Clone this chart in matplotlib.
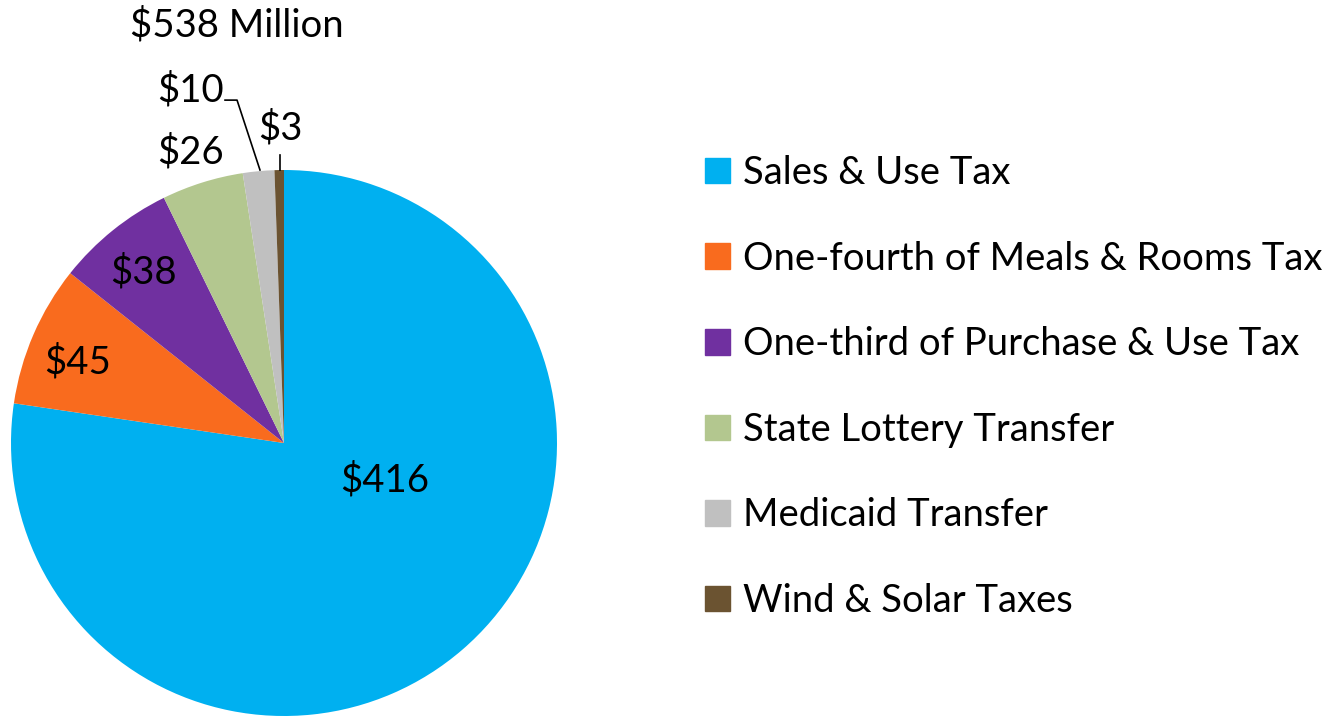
import matplotlib
matplotlib.use('Agg')
import matplotlib.pyplot as plt
import matplotlib.patches as mpatches

# data (millions of dollars)
categories = ['Sales & Use Tax', 'One-fourth of Meals & Rooms Tax',
              'One-third of Purchase & Use Tax', 'State Lottery Transfer',
              'Medicaid Transfer', 'Wind & Solar Taxes']
values = [416, 45, 38, 26, 10, 3]
value_labels = ['$416', '$45', '$38', '$26', '$10', '$3']
total_label = '$538 Million'

colors = ['#00B0F0', '#F96B1E', '#7030A0', '#B3C78F', '#C0C0C0', '#6B5331']

plt.rcParams['font.family'] = ['Lato', 'DejaVu Sans']

fig = plt.figure(figsize=(13.36, 7.16), dpi=100)

# pie centre ~(284, 443) px, radius ~273 px
cx, cy, r = 284, 443, 273
W, H = 1336, 716
ax = fig.add_axes([(cx - r) / W, (H - cy - r) / H, 2 * r / W, 2 * r / H])
ax.pie(values, colors=colors, startangle=90, counterclock=False,
       radius=1, wedgeprops=dict(linewidth=0))
ax.set_xlim(-1, 1)
ax.set_ylim(-1, 1)
ax.set_aspect('equal')
ax.axis('off')

fs = 27.5
# value labels (data coords, radius 1)
label_pos = [(0.37, -0.136), (-0.755, 0.297), (-0.516, 0.626),
             (-0.344, 1.066), (-0.344, 1.293), (-0.015, 1.154)]
for (x, y), t in zip(label_pos, value_labels):
    ax.text(x, y, t, ha='center', va='center', fontsize=fs, color='black',
            clip_on=False)

# leader lines
ax.plot([-0.216, -0.172, -0.088], [1.256, 1.256, 1.0], color='black',
        lw=1.2, clip_on=False)
ax.plot([-0.015, -0.015], [1.055, 1.0], color='black', lw=1.2, clip_on=False)

ax.text(-0.172, 1.531, total_label, ha='center', va='center', fontsize=fs,
        clip_on=False)

handles = [mpatches.Patch(color=c, label=l) for c, l in zip(colors, categories)]
fig.legend(handles=handles, loc='center left', bbox_to_anchor=(690 / W, 1 - 387 / H),
           frameon=False, fontsize=fs, handlelength=0.65, handleheight=0.65,
           handletextpad=0.35, labelspacing=1.3, borderaxespad=0)

fig.savefig('out.png', dpi=100)
